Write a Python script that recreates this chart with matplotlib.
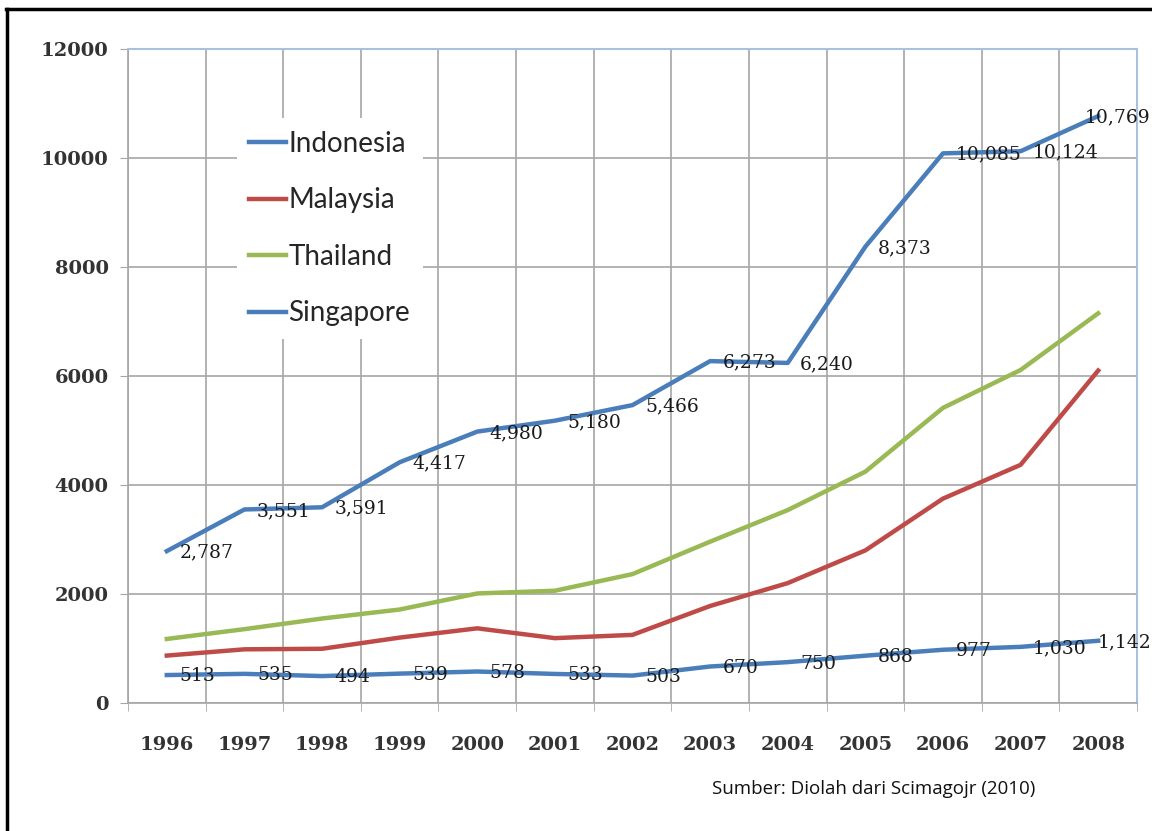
import matplotlib.pyplot as plt
from matplotlib.lines import Line2D

years = ["1996", "1997", "1998", "1999", "2000", "2001", "2002",
         "2003", "2004", "2005", "2006", "2007", "2008"]
singapore = [2787, 3551, 3591, 4417, 4980, 5180, 5466, 6273, 6240, 8373, 10085, 10124, 10769]
indonesia = [513, 535, 494, 539, 578, 533, 503, 670, 750, 868, 977, 1030, 1142]
malaysia = [870, 985, 995, 1200, 1370, 1190, 1250, 1780, 2200, 2800, 3750, 4370, 6100]
thailand = [1175, 1355, 1550, 1715, 2010, 2060, 2365, 2960, 3540, 4245, 5415, 6110, 7150]

BLUE = "#4A7EBB"
RED = "#BE4B48"
GREEN = "#98B954"
GRID = "#A6A6A6"

fig = plt.figure(figsize=(11.52, 8.31), dpi=100)
ax = fig.add_axes([128 / 1152, 1 - 703 / 831, 1009 / 1152, 654 / 831])

x = range(len(years))
ax.plot(x, indonesia, color=BLUE, lw=3.2, label="Indonesia", zorder=3)
ax.plot(x, malaysia, color=RED, lw=3.2, label="Malaysia", zorder=3)
ax.plot(x, thailand, color=GREEN, lw=3.2, label="Thailand", zorder=3)
ax.plot(x, singapore, color=BLUE, lw=3.2, label="Singapore", zorder=3)

# data labels to the right of each point (last ones pulled in to fit)
last = len(years) - 1
for series, last_dx in ((singapore, -10), (indonesia, 0)):
    for i, v in enumerate(series):
        dx = last_dx if i == last else 9
        ax.annotate(f"{v:,}", (i, v), xytext=(dx, -1), textcoords="offset points",
                    ha="left", va="center", fontsize=13.5, family="DejaVu Serif",
                    color="#1a1a1a", zorder=4, annotation_clip=False)

ax.set_xlim(-0.5, len(years) - 0.5)
ax.set_ylim(0, 12000)
ax.set_yticks(range(0, 12001, 2000))
ax.set_xticks(list(x))
ax.set_xticklabels(years)
ax.set_xticks([i - 0.5 for i in range(len(years) + 1)], minor=True)

ax.tick_params(axis="x", which="major", length=0, pad=24)
ax.tick_params(axis="x", which="minor", length=6, color=GRID, direction="out")
ax.tick_params(axis="y", length=6, color=GRID, direction="out", pad=8)
for lab in ax.get_xticklabels() + ax.get_yticklabels():
    lab.set_fontfamily("DejaVu Serif")
    lab.set_fontweight("bold")
    lab.set_fontsize(14)
    lab.set_color("#333333")

ax.grid(axis="y", which="major", color=GRID, lw=1.2, zorder=0)
ax.grid(axis="x", which="minor", color=GRID, lw=1.2, zorder=0)
ax.set_axisbelow(True)

for side in ("left", "bottom"):
    ax.spines[side].set_color(GRID)
    ax.spines[side].set_linewidth(1.2)
for side in ("top", "right"):
    ax.spines[side].set_color("#A9C1DE")
    ax.spines[side].set_linewidth(1.5)

leg = ax.legend(loc="upper left", bbox_to_anchor=(0.108, 0.894), frameon=True,
                fancybox=False, framealpha=1, handlelength=1.3, handletextpad=0.1,
                labelspacing=1.1, borderpad=0.45, borderaxespad=0,
                prop={"family": "Lato", "size": 20})
leg.get_frame().set_edgecolor("none")
leg.get_frame().set_facecolor("white")
for t in leg.get_texts():
    t.set_color("#262626")

fig.text(712 / 1152, 1 - 789 / 831, "Sumber: Diolah dari Scimagojr (2010)",
         family="Open Sans", fontsize=13.5, va="center", ha="left", color="#111111")

# outer frame (top and left edges visible)
fig.add_artist(Line2D([6 / 1152, 1], [1 - 9 / 831, 1 - 9 / 831], color="black", lw=2.5,
                      transform=fig.transFigure))
fig.add_artist(Line2D([7 / 1152, 7 / 1152], [0, 1 - 9 / 831], color="black", lw=2.5,
                      transform=fig.transFigure))

fig.savefig("out.png", dpi=100, facecolor="white")
